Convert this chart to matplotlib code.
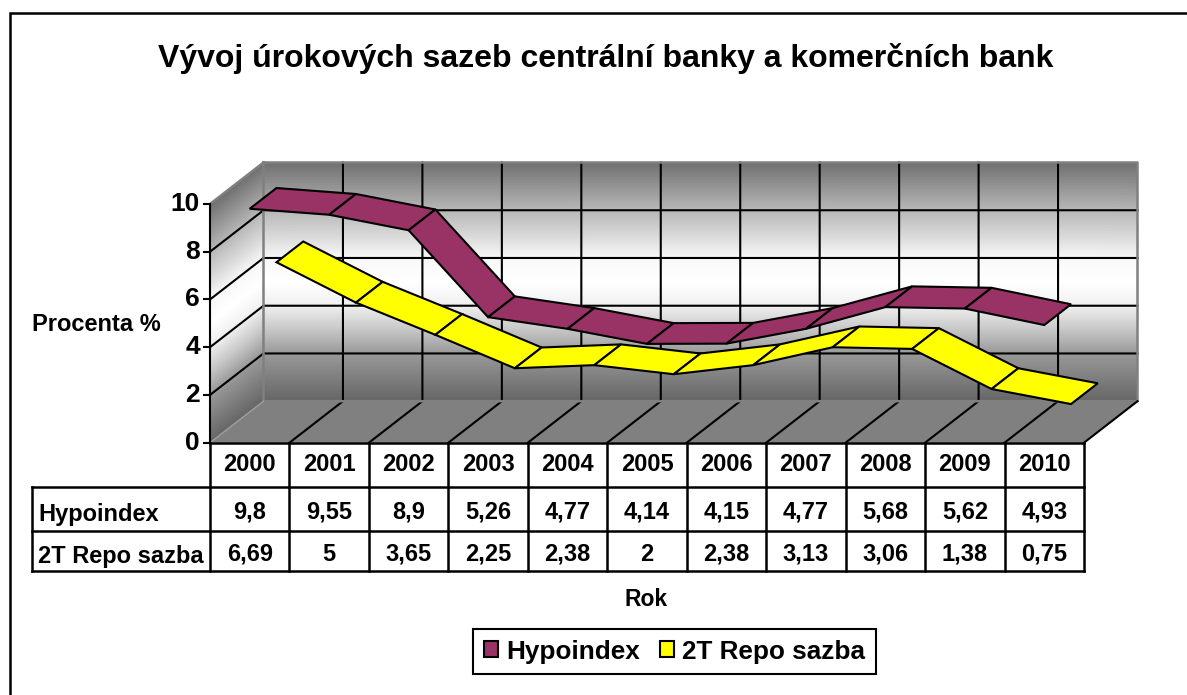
import numpy as np
import matplotlib
matplotlib.use('Agg')
import matplotlib.pyplot as plt
from matplotlib.patches import Polygon, Patch, Rectangle

plt.rcParams['font.family'] = ['Liberation Sans', 'DejaVu Sans']
plt.rcParams['font.weight'] = 'bold'

years = ['2000', '2001', '2002', '2003', '2004', '2005', '2006', '2007', '2008', '2009', '2010']
hypoindex = [9.8, 9.55, 8.9, 5.26, 4.77, 4.14, 4.15, 4.77, 5.68, 5.62, 4.93]
repo = [6.69, 5, 3.65, 2.25, 2.38, 2, 2.38, 3.13, 3.06, 1.38, 0.75]
hypoindex_txt = ['9,8', '9,55', '8,9', '5,26', '4,77', '4,14', '4,15', '4,77', '5,68', '5,62', '4,93']
repo_txt = ['6,69', '5', '3,65', '2,25', '2,38', '2', '2,38', '3,13', '3,06', '1,38', '0,75']
y_ticks = [0, 2, 4, 6, 8, 10]
# wall shading, grey level against height on the value axis
wall_v = [0, 2, 3, 4, 5, 6, 8, 10]
wall_grey = [0.40, 0.60, 0.78, 0.94, 1.0, 0.97, 0.72, 0.44]

W, H = 1187, 695
X0, X1 = 210, 1084      # front plane in pixels
Y0, Y10 = 442.7, 204
DX = 53.5 / ((X1 - X0) / 11.0)   # depth shift in category units
DY = 41.5 / ((Y0 - Y10) / 10.0)  # depth shift in value units

fig = plt.figure(figsize=(W / 100, H / 100), dpi=100)
ax = fig.add_axes([X0 / W, 1 - Y0 / H, (X1 - X0) / W, (Y0 - Y10) / H])
ax.set_xlim(0, 11)
ax.set_ylim(0, 10)
ax.axis('off')


def py(y):
    # pixel row to value axis, for the table and labels under the plot
    return (Y0 - y) / (Y0 - Y10) * 10


def px(x):
    return (x - X0) / (X1 - X0) * 11


# back wall and side wall
vs = np.linspace(0, 10, 160)
grey = np.interp(vs, wall_v, wall_grey)
col = np.array([grey, grey])
ax.pcolormesh(np.array([[DX] * len(vs), [11 + DX] * len(vs)]), np.array([vs + DY, vs + DY]), col,
              cmap='gray', vmin=0, vmax=1, shading='gouraud', clip_on=False, zorder=1)
ax.pcolormesh(np.array([[0] * len(vs), [DX] * len(vs)]), np.array([vs, vs + DY]), col,
              cmap='gray', vmin=0, vmax=1, shading='gouraud', clip_on=False, zorder=1)
# floor
ax.add_patch(Polygon([(0, 0), (11, 0), (11 + DX, DY), (DX, DY)], closed=True, facecolor='#808080',
                     edgecolor='none', clip_on=False, zorder=1))

# gridlines on the walls and floor
for v in y_ticks[1:-1]:
    ax.plot([0, DX, 11 + DX], [v, v + DY, v + DY], color='black', lw=1.5, clip_on=False, zorder=2)
for i in range(1, 11):
    ax.plot([i, i + DX, i + DX], [0, DY, 10 + DY], color='black', lw=1.5, clip_on=False, zorder=2)
# outline of the walls
ax.plot([0, DX, 11 + DX, 11 + DX, DX, DX], [10, 10 + DY, 10 + DY, DY, DY, 10 + DY], color='#808080', lw=1.8,
        clip_on=False, zorder=2)
ax.plot([0, DX], [0, DY], color='#a0a0a0', lw=1, clip_on=False, zorder=2)
ax.plot([11, 11 + DX], [0, DY], color='black', lw=1.5, clip_on=False, zorder=2)


# ribbons
def ribbon(values, d0, d1, color):
    for i in range(len(values) - 1):
        x0, x1 = i + 0.5, i + 1.5
        pts = [(x0 + d0 * DX, values[i] + d0 * DY), (x1 + d0 * DX, values[i + 1] + d0 * DY),
               (x1 + d1 * DX, values[i + 1] + d1 * DY), (x0 + d1 * DX, values[i] + d1 * DY)]
        ax.add_patch(Polygon(pts, closed=True, facecolor=color, edgecolor='black', lw=1.5,
                             joinstyle='miter', clip_on=False, zorder=3))


ribbon(repo, 0.5, 1.0, '#FFFF00')
ribbon(hypoindex, 0.0, 0.5, '#993366')

# value axis
ax.plot([0, 0], [0, 10], color='black', lw=1.5, clip_on=False, zorder=4)
for v in y_ticks:
    ax.plot([px(X0 - 6), 0], [v, v], color='black', lw=1.5, clip_on=False, zorder=4)
    ax.text(px(X0 - 10), v, str(v), ha='right', va='center', fontsize=19, clip_on=False)

# data table
rows = [Y0, 486.7, 530.7, 570.7]
ax.plot([0, 11], [0, 0], color='black', lw=1.8, clip_on=False, zorder=4)
for r in rows[1:]:
    ax.plot([px(31.7), 11], [py(r), py(r)], color='black', lw=1.8, clip_on=False, zorder=4)
ax.plot([px(31.7), px(31.7)], [py(rows[1]), py(rows[3])], color='black', lw=1.8, clip_on=False, zorder=4)
for i in range(12):
    ax.plot([i, i], [0, py(rows[3])], color='black', lw=1.8, clip_on=False, zorder=4)
for i in range(len(years)):
    ax.text(i + 0.5, py(470.7), years[i], ha='center', va='baseline', fontsize=17)
    ax.text(i + 0.5, py(519), hypoindex_txt[i], ha='center', va='baseline', fontsize=17)
    ax.text(i + 0.5, py(560.7), repo_txt[i], ha='center', va='baseline', fontsize=17)
ax.text(px(38), py(520.7), 'Hypoindex', ha='left', va='baseline', fontsize=17)
ax.text(px(38), py(562.7), '2T Repo sazba', ha='left', va='baseline', fontsize=17)

# titles
fig.text(605.5 / W, 1 - 58 / H, 'Vývoj úrokových sazeb centrální banky a komerčních bank', ha='center', va='center',
         fontsize=23)
fig.text(96 / W, 1 - 324.5 / H, 'Procenta %', ha='center', va='center', fontsize=17)
fig.text(646 / W, 1 - 599.5 / H, 'Rok', ha='center', va='center', fontsize=16.5)

# legend
leg = fig.legend(handles=[Patch(facecolor='#993366', edgecolor='black', lw=1.5, label='Hypoindex'),
                          Patch(facecolor='#FFFF00', edgecolor='black', lw=1.5, label='2T Repo sazba')],
                 ncol=2, loc='center', bbox_to_anchor=(674.5 / W, 1 - 651.5 / H), fontsize=18.8,
                 handlelength=0.55, handleheight=0.55, handletextpad=0.3, columnspacing=0.78, borderpad=0.42,
                 fancybox=False, framealpha=1, edgecolor='black')
leg.get_frame().set_linewidth(1.5)

# outer frame of the chart area
fig.add_artist(Rectangle((10 / W, -0.05), 1.2, 1 - 13 / H + 0.05, transform=fig.transFigure, facecolor='none',
                         edgecolor='black', lw=1.8, zorder=10))

fig.savefig('out.png', dpi=100)
